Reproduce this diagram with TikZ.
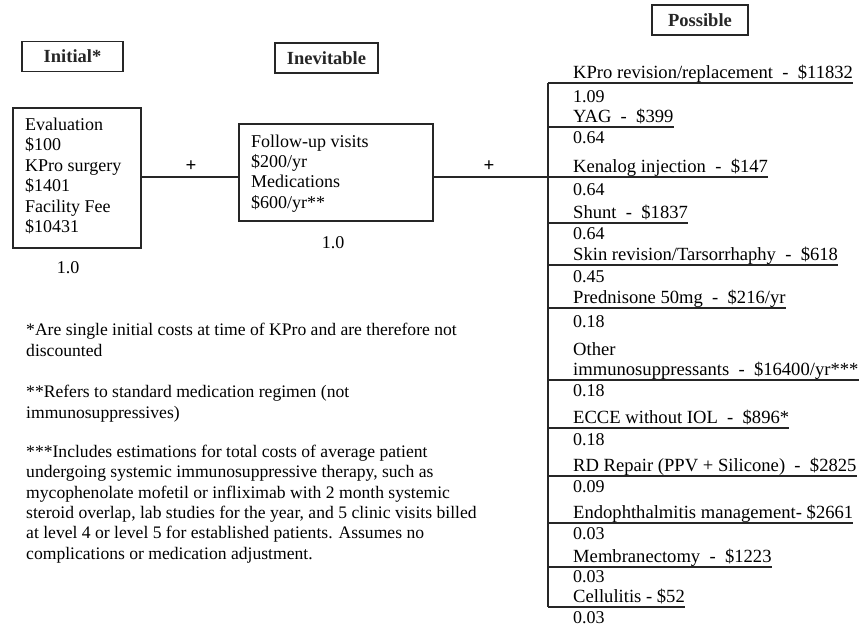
\documentclass[tikz,border=0pt]{standalone}
\usepackage{fontspec}
\setmainfont{Liberation Serif}
\begin{document}
\begin{tikzpicture}[x=1pt,y=-1pt,
  every node/.style={font=\fontsize{18}{20.5}\selectfont},
  ln/.style={line width=1.4pt, black!85},
  hdr/.style={draw, line width=1.6pt, black!85, minimum height=30pt, inner sep=0pt, font=\fontsize{18.5}{20}\selectfont\bfseries},
  bigbox/.style={draw, line width=1.6pt, black!85, inner sep=0pt},
  item/.style={anchor=south west, inner sep=0pt, text depth=4.5pt, align=left, font=\fontsize{18.6}{20}\selectfont},
  prob/.style={anchor=west, inner sep=0pt},
  plus/.style={inner sep=0pt, font=\fontsize{19}{20}\selectfont\bfseries},
  boxtxt/.style={anchor=base west, inner sep=0pt, align=left},
  note/.style={anchor=base west, inner sep=0pt, align=left, font=\fontsize{17.6}{20.3}\selectfont}
]
\useasboundingbox (0,0) rectangle (866,628);

% headers
\node[hdr, minimum width=101pt] (hinit) at (72.5,56.5) {Initial*};
\node[hdr, minimum width=103pt] (hinev) at (326.5,58) {Inevitable};
\node[hdr, minimum width=96pt] (hposs) at (700,20) {Possible};

% main boxes
\node[bigbox, minimum width=128pt, minimum height=140pt, anchor=north west] (init) at (12,107) {};
\node[boxtxt] (inittxt) at (25,233) {Evaluation\\ \$100\\ KPro surgery\\ \$1401\\ Facility Fee\\ \$10431};
\node[bigbox, minimum width=194pt, minimum height=97pt, anchor=north west] (inev) at (238,123) {};
\node[boxtxt, font=\fontsize{18}{20.3}\selectfont] (inevtxt) at (251,208) {Follow-up visits\\ \$200/yr\\ Medications\\ \$600/yr**};

\node (pinit) at (68,268) {1.0};
\node (pinev) at (333,243) {1.0};

% vertical line
\coordinate (vtop) at (548,83);
\coordinate (vbot) at (548,607);
\coordinate (vjoin) at (548,177);
\draw[ln] (vtop) -- (vbot);

% connectors
\draw[ln] (init.east |- 0,177) -- (inev.west |- 0,177);
\draw[ln] (inev.east |- 0,177) -- (vjoin);
\node[plus] (plus1) at (191,166) {+};
\node[plus] (plus2) at (489,166) {+};

% possible items
\foreach \i/\uy/\py/\pv/\txt in {
  1/83/97/1.09/{KPro revision/replacement \ - \ \$11832},
  2/127/138/0.64/{YAG \ - \ \$399},
  3/177/190/0.64/{Kenalog injection \ - \ \$147},
  4/223/234/0.64/{Shunt \ - \ \$1837},
  5/265/277/0.45/{Skin revision/Tarsorrhaphy \ - \ \$618},
  6/308/322/0.18/{Prednisone 50mg \ - \ \$216/yr},
  7/380/391/0.18/{Other\\immunosuppressants \ - \ \$16400/yr***},
  8/428/440/0.18/{ECCE without IOL \ - \ \$896*},
  9/476/487/0.09/{RD Repair (PPV + Silicone) \ - \ \$2825},
  10/523/534/0.03/{Endophthalmitis management- \$2661},
  11/567/577/0.03/{Membranectomy \ - \ \$1223},
  12/607/618/0.03/{Cellulitis - \$52}}
{
  \node[item] (t\i) at (573,\uy) {\txt};
  \draw[ln] (vtop |- t\i.south east) -- (t\i.south east);
  \node[prob] (p\i) at (573,\py) {\pv};
}

% footnotes
\node[note] (n1) at (26,356) {*Are single initial costs at time of KPro and are therefore not\\discounted};
\node[note] (n2) at (26,418) {**Refers to standard medication regimen (not\\immunosuppressives)};
\node[note] (n3) at (26,559) {***Includes estimations for total costs of average patient\\undergoing systemic immunosuppressive therapy, such as\\mycophenolate mofetil or infliximab with 2 month systemic\\steroid overlap, lab studies for the year, and 5 clinic visits billed\\at level 4 or level 5 for established patients. Assumes no\\complications or medication adjustment.};
\end{tikzpicture}
\end{document}
